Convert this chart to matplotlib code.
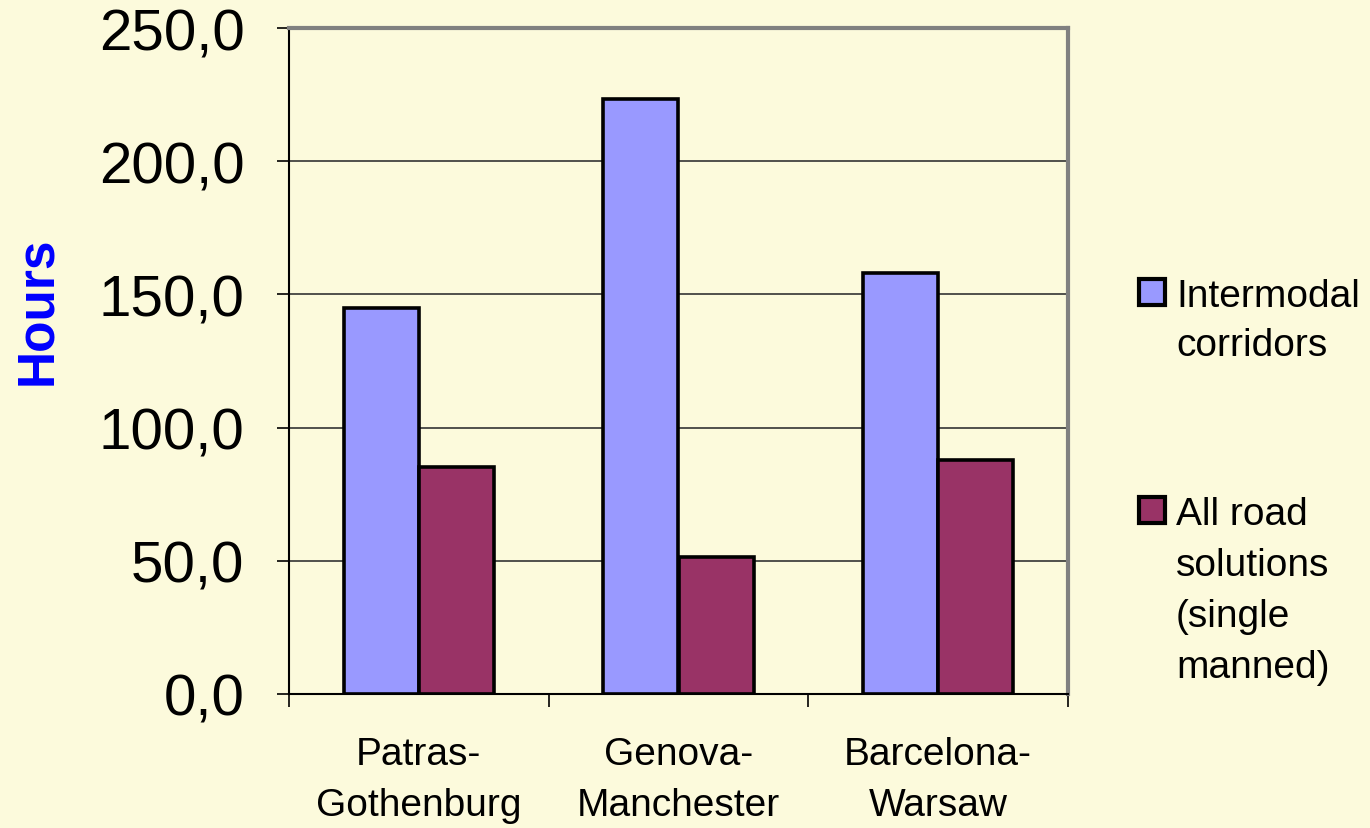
import matplotlib
matplotlib.use("Agg")
import matplotlib.pyplot as plt
from matplotlib.patches import Rectangle
import numpy as np

categories = ["Patras-\nGothenburg", "Genova-\nManchester", "Barcelona-\nWarsaw"]
intermodal = [144.9, 223.3, 158.0]
road = [85.2, 51.4, 87.8]
series_names = [["Intermodal", "corridors"], ["All road", "solutions", "(single", "manned)"]]
yticks = [0, 50, 100, 150, 200, 250]
ytick_labels = ["0,0", "50,0", "100,0", "150,0", "200,0", "250,0"]

BG = "#FCFADC"
C1 = "#9999FF"
C2 = "#993366"
W, H = 1370, 829

plt.rcParams["font.family"] = ["Liberation Sans", "DejaVu Sans"]
fig = plt.figure(figsize=(W / 100, H / 100), dpi=100, facecolor=BG)
ax = fig.add_axes([289 / W, 1 - 695 / H, (1068 - 289) / W, (695 - 29) / H])
ax.set_facecolor(BG)

x = np.arange(len(categories))
bw = 0.29
ax.bar(x - bw / 2, intermodal, bw, color=C1, edgecolor="black", linewidth=2.6, zorder=3)
ax.bar(x + bw / 2, road, bw, color=C2, edgecolor="black", linewidth=2.6, zorder=3)

ax.set_xlim(-0.5, 2.5)
ax.set_ylim(0, 250)
ax.set_yticks(yticks)
ax.set_yticklabels(ytick_labels, fontsize=42)
ax.set_xticks([-0.5, 0.5, 1.5, 2.5])
ax.set_xticklabels([])
ax.set_xticks(x, minor=True)
ax.set_xticklabels(categories, minor=True, fontsize=28, linespacing=1.55)
ax.tick_params(axis="x", which="minor", length=0, pad=30)
ax.tick_params(axis="x", which="major", length=9, width=1.2, direction="out")
ax.tick_params(axis="y", length=9, width=1.2, direction="out", pad=23)

ax.grid(axis="y", color="#333333", linewidth=1.2, zorder=1)
ax.set_axisbelow(True)
for s in ["top", "right"]:
    ax.spines[s].set_color("#808080")
    ax.spines[s].set_linewidth(3)
for s in ["left", "bottom"]:
    ax.spines[s].set_color("black")
    ax.spines[s].set_linewidth(1.5)

fig.text(38 / W, 1 - 311 / H, "Hours", rotation=90, color="#0000FF",
         fontsize=37, fontweight="bold", ha="center", va="center")

# legend
entries = [(C1, 280, [307, 356]), (C2, 498, [525, 576, 627, 678])]
for (col, sq_top, baselines), lines in zip(entries, series_names):
    fig.patches.append(Rectangle((1139 / W, 1 - (sq_top + 26) / H), 26 / W, 26 / H,
                                 transform=fig.transFigure, facecolor=col,
                                 edgecolor="black", linewidth=3))
    for b, t in zip(baselines, lines):
        fig.text(1176 / W, 1 - b / H, t, fontsize=28, ha="left", va="baseline")

fig.savefig("out.png", dpi=100, facecolor=BG)
